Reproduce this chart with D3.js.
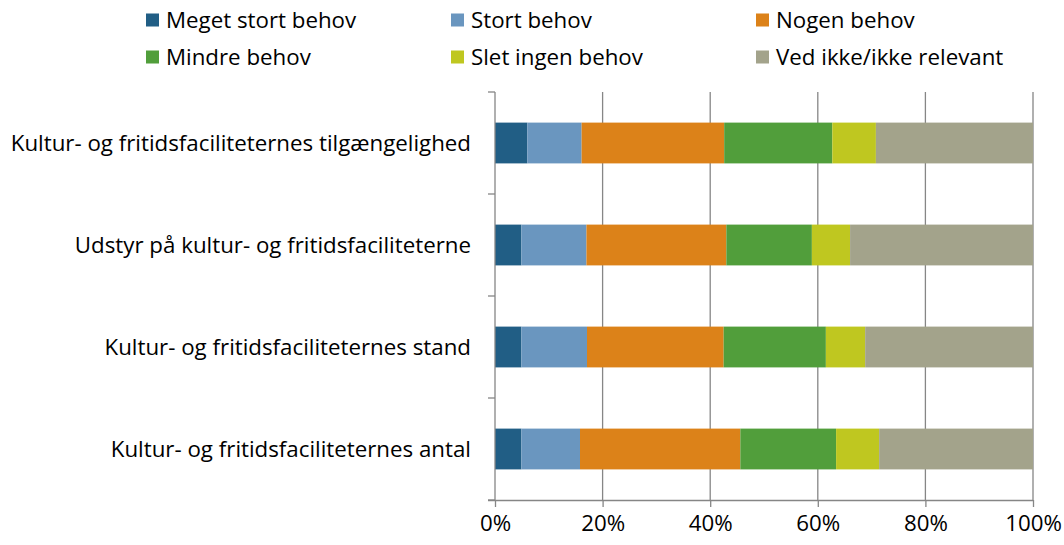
<!DOCTYPE html>
<html><head><meta charset="utf-8">
<script src="https://cdn.jsdelivr.net/npm/d3@7"></script>
<style>body{margin:0;background:#fff;} text{font-family:"Open Sans",sans-serif;fill:#000;}</style>
</head><body><svg id="c" width="1064" height="545"></svg>
<script>
const categories = ["Kultur- og fritidsfaciliteternes tilgængelighed","Udstyr på kultur- og fritidsfaciliteterne","Kultur- og fritidsfaciliteternes stand","Kultur- og fritidsfaciliteternes antal"];
const seriesNames = ["Meget stort behov","Stort behov","Nogen behov","Mindre behov","Slet ingen behov","Ved ikke/ikke relevant"];
const seriesColors = ["#215E85","#6A96BF","#DC8219","#519E3B","#BFC720","#A3A38B"];
const meget = [6.0,4.9,4.9,4.9];
const stort = [10.1,12.1,12.2,10.9];
const nogen = [26.5,26.0,25.4,29.8];
const mindre = [20.1,15.9,19.0,17.8];
const slet = [8.1,7.1,7.3,8.0];
const vedIkke = [29.2,34.0,31.2,28.6];
const tickValues = [0,20,40,60,80,100];

const seriesValues = [meget,stort,nogen,mindre,slet,vedIkke];
const FS = "22.3px";
const svg = d3.select("#c");
const x = d3.scaleLinear().domain([0,100]).range([495,1033]);
const y = d3.scaleBand().domain(categories).range([92,500]).paddingInner(0.6).paddingOuter(0.3);

// gridlines
svg.append("g").selectAll("line").data(tickValues.slice(1)).join("line")
  .attr("x1",d=>x(d)).attr("x2",d=>x(d)).attr("y1",92).attr("y2",500)
  .attr("stroke","#868686").attr("stroke-width",1.3);

// bars
const stackData = categories.map((c,i)=>{const o={cat:c}; seriesNames.forEach((s,j)=>o[s]=seriesValues[j][i]); return o;});
const stack = d3.stack().keys(seriesNames)(stackData);
svg.append("g").selectAll("g").data(stack).join("g").attr("fill",(d,i)=>seriesColors[i])
  .selectAll("rect").data(d=>d).join("rect")
  .attr("x",d=>x(d[0])).attr("width",d=>x(d[1])-x(d[0]))
  .attr("y",d=>y(d.data.cat)).attr("height",y.bandwidth());

// axes
const xAxis = d3.axisBottom(x).tickValues(tickValues).tickFormat(d=>d+"%").tickSize(7).tickPadding(8);
const gx = svg.append("g").attr("transform","translate(0,500)").call(xAxis);
gx.select(".domain").attr("d","M488,0.5H1033").attr("stroke","#868686").attr("stroke-width",1.3);
gx.selectAll(".tick line").attr("stroke","#868686").attr("stroke-width",1.3);
gx.selectAll("text").style("font-size",FS).attr("fill","#000");

const yTicks = d3.range(5).map(i=>92+i*102);
svg.append("line").attr("x1",495).attr("x2",495).attr("y1",92).attr("y2",500).attr("stroke","#868686").attr("stroke-width",1.3);
svg.append("g").selectAll("line").data(yTicks).join("line")
  .attr("x1",488).attr("x2",495).attr("y1",d=>d).attr("y2",d=>d).attr("stroke","#868686").attr("stroke-width",1.3);

svg.append("g").selectAll("text").data(categories).join("text")
  .attr("x",471).attr("y",d=>y(d)+y.bandwidth()/2).attr("dy","0.35em")
  .attr("text-anchor","end").style("font-size",FS).text(d=>d);

// legend
const legX = [146,451,756], legY=[20,57];
const leg = svg.append("g").selectAll("g").data(seriesNames).join("g")
  .attr("transform",(d,i)=>`translate(${legX[i%3]},${legY[Math.floor(i/3)]})`);
leg.append("rect").attr("x",0).attr("y",-6.5).attr("width",13).attr("height",13).attr("fill",(d,i)=>seriesColors[i]);
leg.append("text").attr("x",20).attr("dy","0.35em").style("font-size",FS).text(d=>d);
</script></body></html>
